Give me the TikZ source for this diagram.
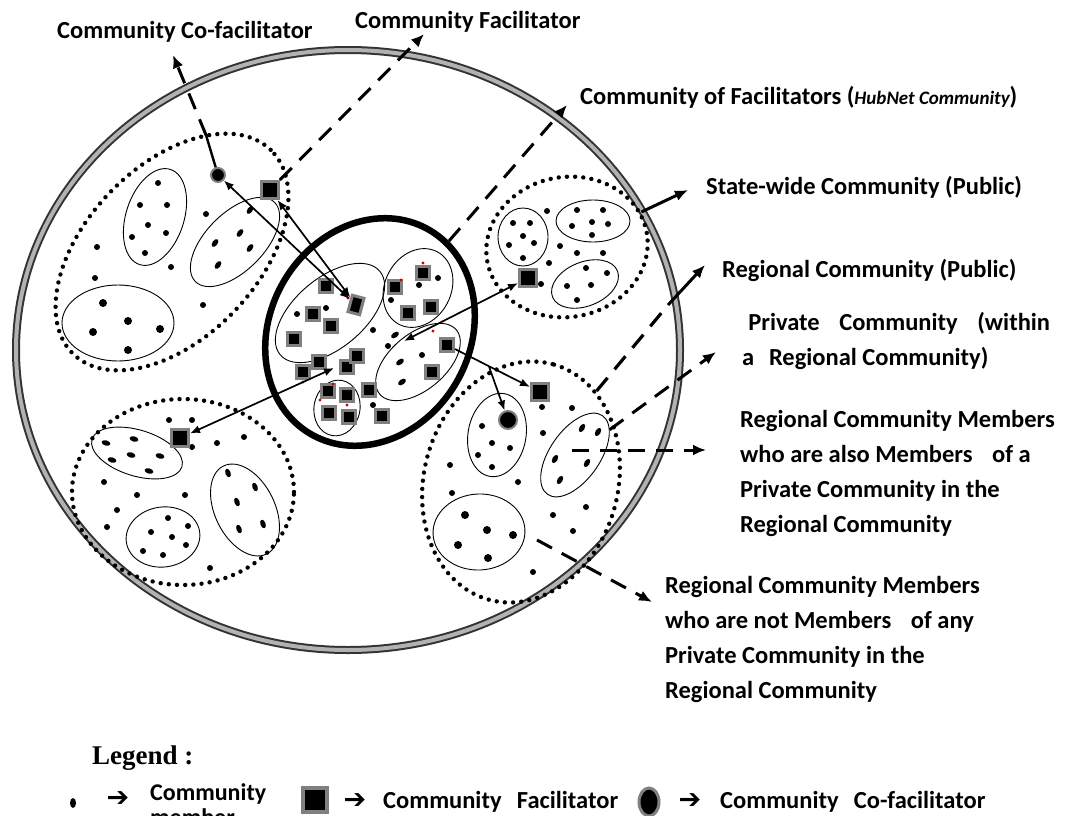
\documentclass[tikz,border=0pt]{standalone}
\usepackage{fontspec}
\setmainfont{Carlito}
\newfontfamily\legfont{Liberation Serif}
\newfontfamily\symfont{DejaVu Sans}
\usepackage{xcolor}
\usetikzlibrary{arrows.meta,shapes.geometric,calc,positioning}
\newcommand{\lblfont}{\bfseries\fontsize{24.5}{35}\selectfont}
\newcommand{\mbr}{3.0}
\newcommand{\bmbr}{4.0}
\newcommand{\dsh}[3]{\fill[rotate around={#3:(#1,#2)}] (#1,#2) ellipse [x radius=4.5, y radius=2.6];}
\tikzset{
    ringsty/.style={draw=black!80, line width=2pt, double=gray!60, double distance=4pt},
    hubsty/.style={ellipse, draw, line width=6.5pt, inner sep=0pt},
    cltsty/.style={ellipse, draw, line width=4.4pt, line cap=round, dash pattern=on 0pt off 8.2pt, inner sep=0pt},
    pcsty/.style={ellipse, draw, line width=0.9pt, inner sep=0pt},
    facsty/.style={rectangle, fill=black, draw=black!50, line width=3pt, minimum size=13pt, inner sep=0pt},
    bfacsty/.style={facsty, minimum size=17pt},
    cofsty/.style={circle, fill=black, draw=black!50, line width=2pt, minimum size=14pt, inner sep=0pt},
    lnksty/.style={-{Latex[length=10pt,width=8pt]}, line width=1.7pt},
    dlnksty/.style={{Latex[length=10pt,width=8pt]}-{Latex[length=10pt,width=8pt]}, line width=1.7pt},
    lbldsh/.style={line width=3.2pt, dash pattern=on 17pt off 11pt},
    lblarr/.style={-{Latex[length=13pt,width=11pt]}, line width=3pt},
    lblsty/.style={font=\lblfont, inner sep=0pt, anchor=west},
    symsty/.style={font=\symfont\bfseries\fontsize{27}{30}\selectfont, inner sep=0pt},
    redsty/.style={fill=red!80!black},
}

\begin{document}
\begin{tikzpicture}[x=1pt, y=-1pt]
  \useasboundingbox (0,0) rectangle (1068,816);
  \fill[white] (0,0) rectangle (1068,816);

  % state-wide community
  \draw[ringsty] (348,350) ellipse [x radius=332, y radius=300];

  % community of facilitators
  \node[hubsty, rotate=60, minimum width=236pt, minimum height=200pt] (hub) at (370,332) {};

  % regional communities
  \node[cltsty, rotate=46, minimum width=284pt, minimum height=172pt] (clA) at (172,252) {};
  \node[cltsty, rotate=10, minimum width=162pt, minimum height=140pt] (clB) at (567,247) {};
  \node[cltsty, minimum width=222pt, minimum height=186pt] (clC) at (183,492) {};
  \node[cltsty, rotate=75, minimum width=244pt, minimum height=194pt] (clD) at (521,482) {};

  % private communities
  \node[pcsty, rotate=72, minimum width=100pt, minimum height=58pt] (pA1) at (155,217) {};
  \node[pcsty, rotate=45, minimum width=112pt, minimum height=58pt] (pA2) at (235,242) {};
  \node[pcsty, minimum width=112pt, minimum height=76pt] (pA3) at (118,323) {};
  \node[pcsty, rotate=90, minimum width=58pt, minimum height=50pt] (pB1) at (523,237) {};
  \node[pcsty, minimum width=74pt, minimum height=42pt] (pB2) at (593,221) {};
  \node[pcsty, rotate=22, minimum width=70pt, minimum height=44pt] (pB3) at (585,284) {};
  \node[pcsty, rotate=-17, minimum width=94pt, minimum height=46pt] (pC1) at (137,453) {};
  \node[pcsty, rotate=8, minimum width=74pt, minimum height=60pt] (pC2) at (163,537) {};
  \node[pcsty, rotate=-64, minimum width=98pt, minimum height=60pt] (pC3) at (245,510) {};
  \node[pcsty, rotate=80, minimum width=84pt, minimum height=58pt] (pD1) at (497,435) {};
  \node[pcsty, rotate=55, minimum width=96pt, minimum height=50pt] (pD2) at (575,455) {};
  \node[pcsty, rotate=3, minimum width=92pt, minimum height=76pt] (pD3) at (479,532) {};
  \node[pcsty, rotate=40, minimum width=130pt, minimum height=70pt] (pE1) at (330,313) {};
  \node[pcsty, rotate=62, minimum width=82pt, minimum height=66pt] (pE2) at (418,288) {};
  \node[pcsty, rotate=40, minimum width=100pt, minimum height=56pt] (pE3) at (418,362) {};
  \node[pcsty, rotate=80, minimum width=56pt, minimum height=46pt] (pE4) at (337,408) {};

  % community members
  \foreach \x/\y in {158/183,140/205,167/205,148/225,132/237,166/233,145/253,
                     206/214,97/247,171/267,95/278,203/305,
                     513/223,530/223,523/236,509/245,534/243,523/258,
                     577/210,603/210,572/226,592/222,608/224,592/235,
                     586/268,607/273,567/286,591/285,577/300,
                     547/211,560/246,577/253,603/253,549/263,541/284,
                     168/518,151/532,172/537,188/526,143/551,163/555,186/545,
                     169/420,192/420,217/443,244/437,104/482,137/495,185/495,117/510,107/527,210/568,192/447,
                     482/426,492/443,510/448,478/455,492/467,
                     572/408,543/433,450/465,518/482,452/493,553/515,586/507,573/531,533/572,542/407,
                     297/314,326/308,373/330,388/346,438/278,419/285,422/355,373/405,391/300}
    {\fill (\x,\y) circle (\mbr);}
  \foreach \x/\y in {103/303,128/321,93/332,160/329,128/350,
                     465/515,487/530,513/535,458/545,488/558}
    {\fill (\x,\y) circle (\bmbr);}
  \foreach \x/\y in {250/210,240/233,215/243,250/248,218/265}
    {\dsh{\x}{\y}{55}}
  \foreach \x/\y in {228/473,255/487,237/502,263/524,239/529}
    {\dsh{\x}{\y}{-70}}
  \foreach \x/\y in {106/443,134/439,112/460,131/455,160/456,149/471}
    {\dsh{\x}{\y}{-15}}
  \foreach \x/\y in {582/428,598/432,555/459,587/463,560/480}
    {\dsh{\x}{\y}{60}}
  \foreach \x/\y in {400/362,402/382,395/335}
    {\dsh{\x}{\y}{35}}

  % facilitators in the hub
  \foreach \x/\y [count=\i] in {326/286,313/314,331/326,294/339,319/362,303/372,347/367,357/356,
                     328/391,347/395,329/413,349/417,369/390,382/416,395/287,423/273,
                     408/313,431/307,432/372}
    {\node[facsty] (h\i) at (\x,\y) {};}
  \node[facsty, minimum width=12pt, minimum height=17pt, rotate=-15] (hA) at (356,305) {};
  \node[facsty] (hD) at (447,345) {};
  \foreach \x/\y in {423/263,401/280,320/400,333/384,303/382,347/405,433/331,348/298}
    {\fill[redsty] (\x,\y) circle (1.6);}

  % facilitators and co-facilitators
  \node[bfacsty] (facA) at (270,190) {};
  \node[cofsty] (cofA) at (218,175) {};
  \node[bfacsty] (facB) at (528,278) {};
  \node[bfacsty] (facC) at (180,438) {};
  \node[bfacsty] (facD) at (540,392) {};
  \node[cofsty, minimum size=18pt] (cofD) at (508,420) {};

  % links between facilitators
  \coordinate (cB) at (404,341);
  \coordinate (cC) at (334,368);
  \draw[dlnksty] (cofA) -- (hA);
  \draw[dlnksty] (facA) -- (hA);
  \draw[dlnksty] (cB) -- (facB);
  \draw[dlnksty] (cC) -- (facC);
  \draw[lnksty] (hD) -- (facD);
  \coordinate (bD) at ($(hD)!0.45!(facD)$);
  \draw[lnksty] (bD) -- (cofD);

  % labels
  \node[lblsty] (lcof) at (57,32) {Community Co-facilitator};
  \node[lblsty] (lfac) at (355,22) {Community Facilitator};
  \node[lblsty] (lhub) at (580,97) {Community of Facilitators ({\fontsize{19}{20}\selectfont\itshape HubNet Community})};
  \node[lblsty] (lstate) at (706,187) {State-wide Community (Public)};
  \node[lblsty] (lreg) at (722,270) {Regional Community (Public)};
  \node[lblsty, anchor=north west, align=left] (lpriv) at (742,312) {\hspace{0.25em}Private\hspace{0.8em}Community\hspace{0.8em}(within\\a\hspace{0.6em}Regional Community)};
  \node[lblsty, anchor=north west, align=left] (lmin) at (740,410) {Regional Community Members\\who are also Members\hspace{0.8em}of a\\Private Community in the\\Regional Community};
  \node[lblsty, anchor=north west, align=left] (lmout) at (665,576) {Regional Community Members\\who are not Members\hspace{0.8em}of any\\Private Community in the\\Regional Community};

  % label connectors
  \coordinate (kA) at (206,135);
  \coordinate (tA) at (173,55);
  \coordinate (tF) at (424,34);
  \coordinate (tH) at (567,105);
  \coordinate (tS) at (688,190);
  \coordinate (kR) at (668,305);
  \coordinate (tR) at (705,265);
  \coordinate (tP) at (716,352);
  \coordinate (mIn) at (572,450);
  \coordinate (tM) at (706,450);
  \coordinate (mOut) at (537,540);
  \coordinate (tN) at (652,602);
  \draw[line width=2.4pt] (cofA) -- (kA);
  \draw[lbldsh, lblarr] (kA) -- (tA);
  \draw[lbldsh, lblarr] (facA) -- (tF);
  \draw[lbldsh, lblarr] (hub) -- (tH);
  \draw[lblarr] (clB) -- (tS);
  \draw[lbldsh] (clD) -- (kR);
  \draw[lblarr] (kR) -- (tR);
  \draw[lbldsh, lblarr] (pD2) -- (tP);
  \draw[lbldsh, lblarr] (mIn) -- (tM);
  \draw[lbldsh, lblarr] (mOut) -- (tN);

  % legend
  \node[font=\legfont\bfseries\fontsize{27}{30}\selectfont, inner sep=0pt, anchor=west] (leg) at (92,758) {Legend :};
  \fill (73,803) ellipse [x radius=3, y radius=5];
  \node[symsty] (ar1) at (118,799) {➔};
  \node[lblsty, anchor=north west, align=left, font=\bfseries\fontsize{24}{25}\selectfont] (lmbr) at (150,783) {Community\\member};
  \node[facsty, minimum size=24pt, line width=4pt] (lgfac) at (315,800) {};
  \node[symsty] (ar2) at (355,801) {➔};
  \node[lblsty] (lgfactxt) at (383,802) {Community\hspace{0.4em} Facilitator};
  \node[ellipse, fill=black, draw=black!50, line width=3pt, minimum width=20pt, minimum height=28pt, inner sep=0pt] (lgcof) at (649,802) {};
  \node[symsty] (ar3) at (690,801) {➔};
  \node[lblsty] (lgcoftxt) at (720,802) {Community\hspace{0.4em} Co-facilitator};
\end{tikzpicture}
\end{document}
